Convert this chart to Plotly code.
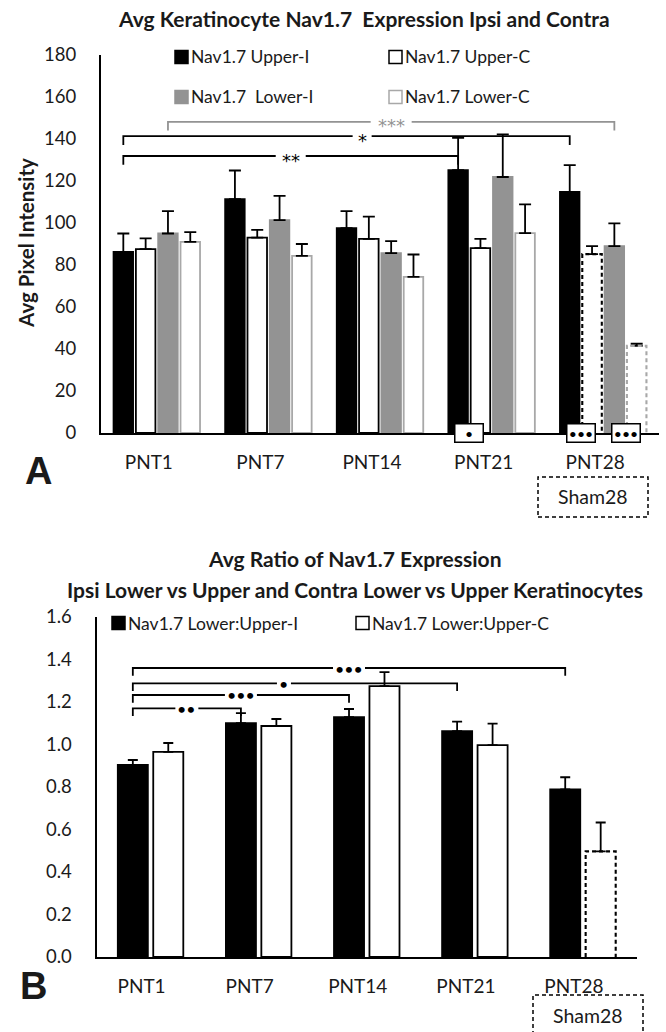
import plotly.graph_objects as go

# ---------------- data ----------------
categories = ["PNT1", "PNT7", "PNT14", "PNT21", "PNT28"]
sham_category = "PNT28"
sham_label = "Sham28"

# Panel A: average pixel intensity
upper_i = [86.2, 111.4, 97.6, 125.2, 114.8]
upper_i_err = [8.8, 13.6, 8.1, 15.3, 12.8]
upper_c = [87.6, 93.0, 92.4, 88.0, 85.2]
upper_c_err = [5.1, 3.7, 10.6, 4.4, 3.8]
lower_i = [95.0, 101.4, 85.7, 121.9, 89.0]
lower_i_err = [10.7, 11.5, 5.7, 20.3, 10.8]
lower_c = [91.0, 84.3, 74.3, 95.2, 41.5]
lower_c_err = [4.7, 5.7, 10.7, 13.7, 1.0]

# Panel B: lower:upper ratio
ratio_i = [0.904, 1.101, 1.129, 1.063, 0.789]
ratio_i_err = [0.023, 0.047, 0.038, 0.045, 0.057]
ratio_c = [0.965, 1.087, 1.275, 0.997, 0.497]
ratio_c_err = [0.042, 0.033, 0.066, 0.101, 0.136]

# significance brackets: (from cat, from series, to cat, to series, height, label, label fraction)
brackets_a = [
    (0, 2, 4, 2, 148.2, "***", 0.5),
    (0, 0, 4, 0, 141.4, "*", 0.535),
    (0, 0, 3, 0, 131.9, "**", 0.5),
]
brackets_b = [
    (0, 0, 4, 0, 1.360, "•••", 0.5),
    (0, 0, 3, 0, 1.288, "•", 0.466),
    (0, 0, 2, 0, 1.233, "•••", 0.5),
    (0, 0, 1, 0, 1.170, "••", 0.5),
]
# significance vs sham at the axis: (category, series a, series b, label)
sham_marks_a = [(3, 0, 1, "•"), (4, 0, 1, "•••"), (4, 2, 3, "•••")]

# ---------------- layout constants ----------------
W, H = 666, 1032
FONT = "Lato"
TXT = "#1a1a1a"
GRAY = "#939393"
LGRAY = "#a8a8a8"

xA_dom = [101 / W, 659 / W]
yA_dom = [1 - 433 / H, 1 - 55 / H]
xB_dom = [96.5 / W, 637 / W]
yB_dom = [1 - 957 / H, 1 - 617 / H]
ncat = len(categories)
catpxA = (xA_dom[1] - xA_dom[0]) * W / ncat
catpxB = (xB_dom[1] - xB_dom[0]) * W / ncat

offA = [-0.3, -0.1, 0.1, 0.3]
bwA = 0.175
offB = [-0.164, 0.164]
bwB = 0.278

seriesA = [
    dict(name="Nav1.7 Upper-I", y=upper_i, e=upper_i_err, fill="black", line="black", sham=False),
    dict(name="Nav1.7 Upper-C", y=upper_c, e=upper_c_err, fill="white", line="black", sham=True),
    dict(name="Nav1.7  Lower-I", y=lower_i, e=lower_i_err, fill=GRAY, line=GRAY, sham=False),
    dict(name="Nav1.7 Lower-C", y=lower_c, e=lower_c_err, fill="white", line=LGRAY, sham=True),
]
seriesB = [
    dict(name="Nav1.7 Lower:Upper-I", y=ratio_i, e=ratio_i_err, fill="black", line="black", sham=False),
    dict(name="Nav1.7 Lower:Upper-C", y=ratio_c, e=ratio_c_err, fill="white", line="black", sham=True),
]

fig = go.Figure()


def add_series(series, offs, bw, xa, ya, lw, capw):
    for j, s in enumerate(series):
        xs = [i + offs[j] for i in range(ncat)]
        lcols = ["rgba(0,0,0,0)" if (s["sham"] and categories[i] == sham_category) else s["line"]
                 for i in range(ncat)]
        fig.add_trace(go.Bar(
            x=xs, y=s["y"], width=bw, name=s["name"], xaxis=xa, yaxis=ya,
            marker=dict(color=s["fill"], line=dict(color=lcols, width=lw)),
            error_y=dict(type="data", symmetric=False, array=s["e"],
                         arrayminus=[0] * ncat, color="black", thickness=1.8, width=capw),
            showlegend=False, hoverinfo="skip"))
        if s["sham"]:
            i = categories.index(sham_category)
            xc, v = xs[i], s["y"][i]
            fig.add_trace(go.Scatter(
                x=[xc - bw / 2, xc - bw / 2, xc + bw / 2, xc + bw / 2],
                y=[0, v, v, 0], mode="lines", xaxis=xa, yaxis=ya,
                line=dict(color=s["line"], width=lw + 0.3, dash="4px,3px"),
                showlegend=False, hoverinfo="skip"))


add_series(seriesA, offA, bwA, "x", "y", 1.8, 6)
add_series(seriesB, offB, bwB, "x2", "y2", 1.8, 5)

shapes = []
annotations = []


def add_brackets(brs, offs, xr, yr, drop, catpx, color_of, family, fsize, yshift, gapfn):
    for (c0, s0, c1, s1, h, lab, frac) in brs:
        x0 = c0 + offs[s0]
        x1 = c1 + offs[s1]
        xm = x0 + (x1 - x0) * frac
        g = gapfn(lab) / catpx / 2
        col = color_of(s0)
        path = (f"M{x0},{h - drop} L{x0},{h} L{xm - g},{h} "
                f"M{xm + g},{h} L{x1},{h} L{x1},{h - drop}")
        shapes.append(dict(type="path", path=path, xref=xr, yref=yr,
                           line=dict(color=col, width=1.8)))
        annotations.append(dict(x=xm, y=h, xref=xr, yref=yr, text=lab, showarrow=False,
                                xanchor="center", yanchor="middle",
                                font=dict(family=family, size=fsize, color=col),
                                yshift=yshift))


add_brackets(brackets_a, offA, "x", "y", 4.2, catpxA,
             lambda s: GRAY if s == 2 else "black", "DejaVu Sans", 18, -4,
             lambda lab: 11 * len(lab) + 8)
add_brackets(brackets_b, offB, "x2", "y2", 0.036, catpxB,
             lambda s: "black", FONT, 16, 0,
             lambda lab: 9 * len(lab) + 5)

for (c, sa, sb, lab) in sham_marks_a:
    xm = c + (offA[sa] + offA[sb]) / 2
    annotations.append(dict(x=xm, y=0, xref="x", yref="y", text=lab, showarrow=False,
                            xanchor="center", yanchor="middle",
                            font=dict(family=FONT, size=14, color="black"),
                            width=25, height=15, borderpad=1, bordercolor="black",
                            borderwidth=1.5, bgcolor="white"))

# Sham28 dashed boxes (layout decoration)
for (bx0, bx1, by0, by1, ty) in [(538, 648, 517, 477, 497), (533, 643, 1040, 995, 1015)]:
    shapes.append(dict(type="rect", xref="paper", yref="paper",
                       x0=bx0 / W, x1=bx1 / W, y0=1 - by0 / H, y1=1 - by1 / H,
                       line=dict(color="black", width=1.5, dash="4px,3px"), fillcolor="rgba(0,0,0,0)"))
    annotations.append(dict(x=(bx0 + bx1) / 2 / W, y=1 - ty / H, xref="paper", yref="paper",
                            text=sham_label, showarrow=False, xanchor="center", yanchor="middle",
                            font=dict(family=FONT, size=19.5, color=TXT)))


# manual legends
def legend_item(xpx, ypx, fill, line, text):
    s = 13
    shapes.append(dict(type="rect", xref="paper", yref="paper",
                       x0=xpx / W, x1=(xpx + s) / W, y0=1 - (ypx + s / 2) / H, y1=1 - (ypx - s / 2) / H,
                       fillcolor=fill, line=dict(color=line, width=1.5)))
    annotations.append(dict(x=(xpx + s + 1) / W, y=1 - ypx / H, xref="paper", yref="paper",
                            text=text, showarrow=False, xanchor="left", yanchor="middle",
                            font=dict(family=FONT, size=17.5, color=TXT)))


legend_item(175, 57, "black", "black", seriesA[0]["name"])
legend_item(389, 57, "white", "black", seriesA[1]["name"])
legend_item(175, 97, GRAY, GRAY, seriesA[2]["name"])
legend_item(389, 97, "white", LGRAY, seriesA[3]["name"])
legend_item(112, 623, "black", "black", seriesB[0]["name"])
legend_item(356, 623, "white", "black", seriesB[1]["name"])


# titles and labels
def ptext(xpx, ypx, text, size, bold=True, angle=0, family=FONT):
    annotations.append(dict(x=xpx / W, y=1 - ypx / H, xref="paper", yref="paper",
                            text=f"<b>{text}</b>" if bold else text, showarrow=False,
                            xanchor="center", yanchor="middle",
                            textangle=angle, font=dict(family=family, size=size, color=TXT)))


ptext(364, 18, "Avg Keratinocyte Nav1.7  Expression Ipsi and Contra", 21)
ptext(355, 558, "Avg Ratio of Nav1.7 Expression", 21)
ptext(355, 589, "Ipsi Lower vs Upper and Contra Lower vs Upper Keratinocytes", 21)
ptext(26, 243, "Avg Pixel Intensity", 20.5, angle=-90)
ptext(38, 471, "A", 38, family="Liberation Sans")
ptext(33, 986, "B", 38, family="Liberation Sans")

common_x = dict(range=[-0.5, ncat - 0.5], tickvals=list(range(ncat)), ticktext=categories,
                showline=True, linecolor="black", linewidth=2, ticks="", showgrid=False,
                zeroline=False, tickfont=dict(family=FONT, size=19, color=TXT),
                ticklabelstandoff=11, automargin=False)
common_y = dict(showline=True, linecolor="black", linewidth=2, ticks="", showgrid=False,
                zeroline=False, tickfont=dict(family=FONT, size=18.5, color=TXT),
                ticklabelstandoff=19, automargin=False)

fig.update_layout(
    template="none",
    width=W, height=H, autosize=False,
    margin=dict(l=0, r=0, t=0, b=0, pad=0),
    paper_bgcolor="white", plot_bgcolor="white",
    barmode="overlay", showlegend=False,
    xaxis=dict(domain=xA_dom, anchor="y", ticklabelshift=-8, **common_x),
    yaxis=dict(domain=yA_dom, anchor="x", range=[0, 180], dtick=20, **common_y),
    xaxis2=dict(domain=xB_dom, anchor="y2", ticklabelshift=-9, **common_x),
    yaxis2=dict(domain=yB_dom, anchor="x2", range=[0, 1.6], dtick=0.2, tickformat=".1f", **common_y),
    shapes=shapes, annotations=annotations,
)

fig.write_html("out.html", config={"displayModeBar": False},
               post_script="document.body.style.margin='0';document.body.style.overflow='hidden';")
